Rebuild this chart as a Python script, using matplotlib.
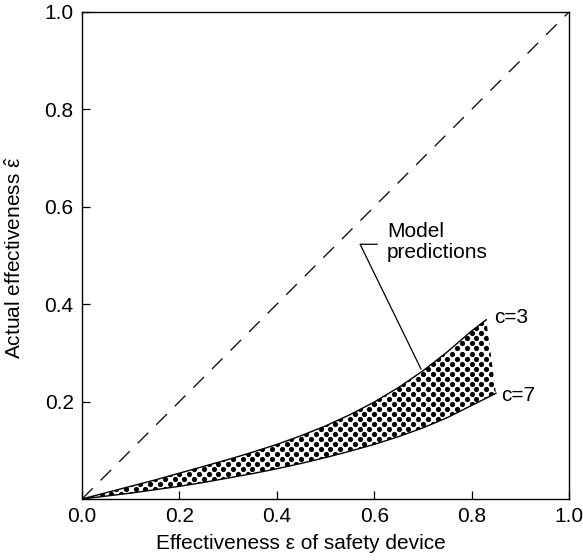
import numpy as np
import matplotlib.pyplot as plt
from matplotlib.patches import Polygon

plt.rcParams['font.family'] = ['Liberation Sans', 'DejaVu Sans']
plt.rcParams['mathtext.fontset'] = 'custom'
plt.rcParams['mathtext.rm'] = 'Liberation Sans'
plt.rcParams['mathtext.it'] = 'Liberation Sans'

# curves
eps_c3 = [0.0, 0.05, 0.1, 0.15, 0.2, 0.25, 0.3, 0.35, 0.4, 0.45, 0.5, 0.55,
          0.6, 0.65, 0.7, 0.75, 0.8, 0.83]
act_c3 = [0.0, 0.013, 0.026, 0.039, 0.053, 0.067, 0.081, 0.096, 0.112, 0.13,
          0.15, 0.173, 0.199, 0.229, 0.263, 0.302, 0.345, 0.368]

eps_c7 = [0.0, 0.05, 0.1, 0.15, 0.2, 0.25, 0.3, 0.35, 0.4, 0.45, 0.5, 0.55,
          0.6, 0.65, 0.7, 0.75, 0.8, 0.85]
act_c7 = [0.0, 0.006, 0.012, 0.019, 0.026, 0.034, 0.043, 0.052, 0.062, 0.073,
          0.085, 0.098, 0.112, 0.128, 0.146, 0.167, 0.192, 0.217]

ticks_x = [0.0, 0.2, 0.4, 0.6, 0.8, 1.0]
ticks_y = [0.2, 0.4, 0.6, 0.8, 1.0]

FS = 15

fig = plt.figure(figsize=(5.83, 5.60), dpi=100)
ax = fig.add_axes([0.1407, 0.109, 0.8353, 0.8696])

ax.plot([0, 1], [0, 1], color='black', lw=0.9, dashes=(12, 9))

# shaded band between the two curves
verts = list(zip(eps_c3, act_c3)) + list(zip(eps_c7, act_c7))[::-1]
band = Polygon(verts, closed=True, facecolor='white', edgecolor='none')
ax.add_patch(band)

# dot texture for the band
gx, gy = np.meshgrid(np.arange(-0.01, 0.9, 0.02), np.arange(0, 0.4, 0.0103))
gx = gx + (np.arange(gx.shape[0])[:, None] % 2) * 0.01
dots = ax.scatter(gx.ravel(), gy.ravel(), s=14, color='black', lw=0)
dots.set_clip_path(band)

ax.plot(eps_c3, act_c3, color='black', lw=1.0)
ax.plot(eps_c7, act_c7, color='black', lw=1.0)

ax.text(0.846, 0.372, 'c=3', fontsize=FS, va='center', ha='left')
ax.text(0.860, 0.213, 'c=7', fontsize=FS, va='center', ha='left')

# leader for the label
ax.plot([0.606, 0.571, 0.696], [0.523, 0.523, 0.267], color='black', lw=0.9)
ax.text(0.626, 0.527, 'Model\npredictions', fontsize=FS, va='center',
        ha='left', linespacing=1.15)

ax.set_xlim(0, 1)
ax.set_ylim(0, 1)
ax.set_xticks(ticks_x)
ax.set_yticks(ticks_y)
ax.set_xticklabels([f'{t:.1f}' for t in ticks_x])
ax.set_yticklabels([f'{t:.1f}' for t in ticks_y])
ax.tick_params(direction='in', length=6, width=0.9, labelsize=FS, pad=6,
               top=False, right=False)
for s in ax.spines.values():
    s.set_linewidth(1.0)

ax.set_xlabel('Effectiveness ε of safety device', fontsize=FS)
ax.xaxis.set_label_coords(0.45, -0.072)
ax.set_ylabel(r'Actual effectiveness $\hat{\varepsilon}$', fontsize=FS)
ax.yaxis.set_label_coords(-0.118, 0.495)

fig.savefig('out.png', dpi=100)
